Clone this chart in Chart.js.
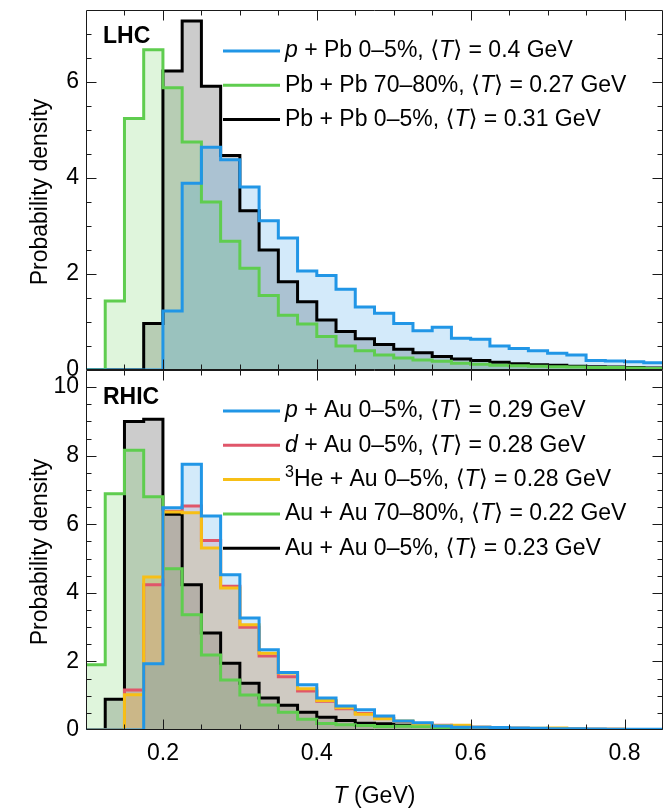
<!DOCTYPE html>
<html>
<head>
<meta charset="utf-8">
<script src="https://cdn.jsdelivr.net/npm/chart.js@4.4.1/dist/chart.umd.min.js"></script>
<style>
  html, body { margin: 0; padding: 0; background: #fff; }
  #wrap { position: relative; width: 672px; height: 810px; overflow: hidden; }
  canvas { position: absolute; left: 0; }
  #lhc { top: 0; }
  #rhic { top: 360px; }
</style>
</head>
<body>
<div id="wrap">
  <canvas id="lhc" width="672" height="390"></canvas>
  <canvas id="rhic" width="672" height="450"></canvas>
</div>
<script>
// ---- binning (GeV): left edge of every 0.025 GeV bin; the last bin closes at T_MAX
const T_MIN = 0.1;
const T_MAX = 0.85;
const binLeftEdges = [
  0.100, 0.125, 0.150, 0.175, 0.200, 0.225, 0.250, 0.275, 0.300, 0.325,
  0.350, 0.375, 0.400, 0.425, 0.450, 0.475, 0.500, 0.525, 0.550, 0.575,
  0.600, 0.625, 0.650, 0.675, 0.700, 0.725, 0.750, 0.775, 0.800, 0.825
];

// ---- axis ticks
const xTickValues = [0.2, 0.4, 0.6, 0.8];
const xTickLabels = ['0.2', '0.4', '0.6', '0.8'];
const lhcYTicks = [0, 2, 4, 6];
const rhicYTicks = [0, 2, 4, 6, 8, 10];
const lhcYMax = 7.5;
const rhicYMax = 10.5;

// ---- LHC probability densities per bin
const lhcPPb = [
  0, 0, 0, 0, 1.23, 3.89, 4.64, 4.38, 3.81, 3.11,
  2.75, 2.06, 1.97, 1.68, 1.31, 1.18, 0.97, 0.82, 0.89, 0.66,
  0.64, 0.50, 0.45, 0.40, 0.35, 0.31, 0.20, 0.19, 0.17, 0.15
];
const lhcPbPbPeripheral = [
  0, 1.44, 5.24, 6.67, 5.88, 4.75, 3.50, 2.68, 2.12, 1.55,
  1.14, 0.96, 0.70, 0.50, 0.40, 0.31, 0.25, 0.21, 0.18, 0.14,
  0.12, 0.10, 0.09, 0.08, 0.07, 0.06, 0.05, 0.05, 0.04, 0.03
];
const lhcPbPbCentral = [
  0, 0, 0, 0.97, 6.23, 7.27, 5.91, 4.47, 3.32, 2.50,
  1.84, 1.42, 1.04, 0.80, 0.65, 0.53, 0.43, 0.36, 0.28, 0.23,
  0.20, 0.16, 0.13, 0.11, 0.10, 0.08, 0.07, 0.06, 0.05, 0.04
];

// ---- RHIC probability densities per bin
const rhicPAu = [
  0, 0, 0, 1.93, 6.48, 7.75, 6.24, 4.53, 3.27, 2.34,
  1.68, 1.32, 0.93, 0.70, 0.59, 0.41, 0.26, 0.21, 0.12, 0.08,
  0.08, 0.07, 0.06, 0.05, 0.04, 0.04, 0.03, 0.02, 0.02, 0.02
];
const rhicDAu = [
  0, 0, 1.17, 4.24, 6.38, 6.53, 5.53, 4.19, 3.00, 2.16,
  1.55, 1.14, 0.84, 0.62, 0.48, 0.34, 0.25, 0.19, 0.14, 0.10,
  0.08, 0.06, 0.05, 0.04, 0.03, 0.03, 0.02, 0.02, 0.01, 0.01
];
const rhicHeAu = [
  0, 0, 1.03, 4.46, 6.36, 6.34, 5.31, 4.14, 3.07, 2.24,
  1.66, 1.20, 0.86, 0.65, 0.46, 0.33, 0.26, 0.18, 0.13, 0.14,
  0.08, 0.06, 0.05, 0.05, 0.06, 0.03, 0.02, 0.02, 0.01, 0.01
];
const rhicAuAuPeripheral = [
  1.90, 6.89, 8.16, 6.80, 4.70, 3.36, 2.19, 1.46, 1.02, 0.73,
  0.52, 0.31, 0.19, 0.15, 0.13, 0.10, 0.11, 0.10, 0.07, 0.05,
  0.04, 0.03, 0.03, 0.02, 0.02, 0.01, 0.01, 0.01, 0.01, 0
];
const rhicAuAuCentral = [
  0, 0.90, 9.00, 9.06, 6.29, 4.24, 2.83, 1.95, 1.36, 0.93,
  0.72, 0.52, 0.37, 0.28, 0.20, 0.18, 0.14, 0.10, 0.08, 0.06,
  0.05, 0.04, 0.03, 0.02, 0.02, 0.01, 0.01, 0.01, 0, 0
];

// ---- legend texts (*...* italic, ^...^ superscript)
const lhcNames = [
  '*p* + Pb 0–5%, ⟨*T*⟩ = 0.4 GeV',
  'Pb + Pb 70–80%, ⟨*T*⟩ = 0.27 GeV',
  'Pb + Pb 0–5%, ⟨*T*⟩ = 0.31 GeV'
];
const rhicNames = [
  '*p* + Au 0–5%, ⟨*T*⟩ = 0.29 GeV',
  '*d* + Au 0–5%, ⟨*T*⟩ = 0.28 GeV',
  '^3^He + Au 0–5%, ⟨*T*⟩ = 0.28 GeV',
  'Au + Au 70–80%, ⟨*T*⟩ = 0.22 GeV',
  'Au + Au 0–5%, ⟨*T*⟩ = 0.23 GeV'
];

const BLUE = '#2196e6', GREEN = '#5fcd4f', BLACK = '#000000', RED = '#e0566a', YELLOW = '#f7bf16';
const FONT = "'Liberation Sans', 'DejaVu Sans', Arial, sans-serif";
const FS = 23;

function rgba(hex, a) {
  const n = parseInt(hex.slice(1), 16);
  return `rgba(${(n >> 16) & 255},${(n >> 8) & 255},${n & 255},${a})`;
}

function histPoints(values) {
  const pts = binLeftEdges.map((e, i) => ({ x: e, y: values[i] }));
  pts.push({ x: T_MAX, y: values[values.length - 1] });
  return pts;
}

// lower `layer` is painted later, i.e. on top
function histDataset(values, color, fillAlpha, layer) {
  return {
    data: histPoints(values),
    stepped: 'before',
    borderColor: color,
    backgroundColor: rgba(color, fillAlpha),
    borderWidth: 3,
    pointRadius: 0,
    fill: 'origin',
    order: layer,
    clip: { left: 2, right: 2, top: 2, bottom: 0 }
  };
}

function parseRich(s) {
  const out = [];
  let it = false, sup = false, buf = '';
  for (const ch of s) {
    if (ch === '*' || ch === '^') {
      if (buf) out.push({ t: buf, it, sup });
      buf = '';
      if (ch === '*') it = !it; else sup = !sup;
    } else buf += ch;
  }
  if (buf) out.push({ t: buf, it, sup });
  return out;
}

function richWidth(ctx, parts, size) {
  let w = 0;
  for (const p of parts) {
    const sz = p.sup ? Math.round(size * 0.68) : size;
    ctx.font = `${p.it ? 'italic ' : ''}${sz}px ${FONT}`;
    w += ctx.measureText(p.t).width;
  }
  return w;
}

function drawRich(ctx, str, x, y, size, align) {
  const parts = parseRich(str);
  let cx = align === 'center' ? x - richWidth(ctx, parts, size) / 2 : x;
  ctx.textBaseline = 'middle';
  ctx.textAlign = 'left';
  for (const p of parts) {
    const sz = p.sup ? Math.round(size * 0.68) : size;
    ctx.font = `${p.it ? 'italic ' : ''}${sz}px ${FONT}`;
    ctx.fillText(p.t, cx, p.sup ? y - size * 0.32 : y);
    cx += ctx.measureText(p.t).width;
  }
}

// frame, inward ticks, panel tag, legend and axis titles
const panelDecor = {
  id: 'panelDecor',
  afterDatasetsDraw(chart, _args, o) {
    const { ctx, chartArea: a } = chart;
    const xs = chart.scales.x, ys = chart.scales.y;
    const L = Math.round(a.left) + 0.5, R = Math.round(a.right) - 0.5;
    const T = Math.round(a.top) + 0.5, B = Math.round(a.bottom) - 0.5;
    ctx.save();
    ctx.strokeStyle = '#1a1a1a';
    ctx.lineWidth = 1;
    ctx.beginPath();
    ctx.rect(L, T, R - L, B - T);
    const MAJ = 10, MIN = 5;
    for (let k = 3; k <= 16; k++) {
      const v = k * 0.05;
      const len = xTickValues.some(m => Math.abs(m - v) < 1e-6) ? MAJ : MIN;
      const px = Math.round(xs.getPixelForValue(v)) + 0.5;
      ctx.moveTo(px, B); ctx.lineTo(px, B - len);
      ctx.moveTo(px, T); ctx.lineTo(px, T + len);
    }
    for (let k = 1; k * 0.5 < o.yMax - 1e-6; k++) {
      const v = k * 0.5;
      const len = o.yMajor.includes(v) ? MAJ : MIN;
      const py = Math.round(ys.getPixelForValue(v)) + 0.5;
      ctx.moveTo(L, py); ctx.lineTo(L + len, py);
      ctx.moveTo(R, py); ctx.lineTo(R - len, py);
    }
    ctx.stroke();
    ctx.restore();
  },
  afterDraw(chart, _args, o) {
    const { ctx, chartArea: a } = chart;
    ctx.save();
    ctx.fillStyle = '#000';
    ctx.textBaseline = 'middle';
    ctx.textAlign = 'left';
    ctx.font = `bold ${FS}px ${FONT}`;
    ctx.fillText(o.tag, a.left + o.tagDx, a.top + o.tagDy);
    o.entries.forEach((e, i) => {
      const y = a.top + o.legendTop + i * o.legendStep;
      ctx.strokeStyle = e.color;
      ctx.lineWidth = 3;
      ctx.beginPath();
      ctx.moveTo(223, y); ctx.lineTo(280, y);
      ctx.stroke();
      ctx.fillStyle = '#000';
      drawRich(ctx, e.label, 285, y, FS, 'left');
    });
    // y-axis title
    ctx.save();
    ctx.translate(41, (a.top + a.bottom) / 2 + 2);
    ctx.rotate(-Math.PI / 2);
    ctx.font = `${FS}px ${FONT}`;
    ctx.textAlign = 'center';
    ctx.textBaseline = 'middle';
    ctx.fillText('Probability density', 0, 0);
    ctx.restore();
    if (o.xTitle) {
      drawRich(ctx, '*T* (GeV)', (a.left + a.right) / 2, a.bottom + 67, FS, 'center');
    }
    ctx.restore();
  }
};

function makeOptions(yMax, yTicks, showX, decor, padTop) {
  return {
    responsive: false,
    animation: false,
    devicePixelRatio: 1,
    events: [],
    layout: { padding: { left: 0, right: 9, top: padTop, bottom: 0 } },
    plugins: {
      legend: { display: false },
      tooltip: { enabled: false },
      // all shaded areas first, outlines afterwards
      filler: { drawTime: 'beforeDatasetsDraw' },
      panelDecor: decor
    },
    scales: {
      x: {
        type: 'linear', min: T_MIN, max: T_MAX,
        afterBuildTicks: s => { s.ticks = xTickValues.map(v => ({ value: v })); },
        afterFit: s => { s.height = showX ? 80 : 20; s.paddingLeft = 0; s.paddingRight = 0; },
        grid: { display: false, drawTicks: false },
        border: { display: false },
        ticks: {
          display: showX, padding: 10, maxRotation: 0, autoSkip: false,
          color: '#000', font: { family: FONT, size: FS },
          callback: (v, i) => xTickLabels[i]
        }
      },
      y: {
        type: 'linear', min: 0, max: yMax,
        afterBuildTicks: s => { s.ticks = yTicks.map(v => ({ value: v })); },
        afterFit: s => { s.width = 86; s.paddingTop = 0; s.paddingBottom = 0; },
        grid: { display: false, drawTicks: false },
        border: { display: false },
        ticks: {
          padding: 7, color: '#000', font: { family: FONT, size: FS },
          callback: v => String(v)
        }
      }
    }
  };
}

const decorBase = { tagDx: 17, legendTop: 41, legendStep: 34.3 };

new Chart(document.getElementById('lhc'), {
  type: 'line',
  data: {
    datasets: [
      histDataset(lhcPPb, BLUE, 0.2, 0),
      histDataset(lhcPbPbPeripheral, GREEN, 0.2, 1),
      histDataset(lhcPbPbCentral, BLACK, 0.2, 2)
    ]
  },
  options: makeOptions(lhcYMax, lhcYTicks, false, Object.assign({}, decorBase, {
    tag: 'LHC', tagDy: 27, yMax: lhcYMax, yMajor: lhcYTicks, xTitle: false,
    entries: [
      { color: BLUE, label: lhcNames[0] },
      { color: GREEN, label: lhcNames[1] },
      { color: BLACK, label: lhcNames[2] }
    ]
  }), 10),
  plugins: [panelDecor]
});

new Chart(document.getElementById('rhic'), {
  type: 'line',
  data: {
    datasets: [
      histDataset(rhicPAu, BLUE, 0.2, 0),
      histDataset(rhicDAu, RED, 0.2, 2),
      histDataset(rhicHeAu, YELLOW, 0.2, 1),
      histDataset(rhicAuAuPeripheral, GREEN, 0.2, 3),
      histDataset(rhicAuAuCentral, BLACK, 0.2, 4)
    ]
  },
  options: makeOptions(rhicYMax, rhicYTicks, true, Object.assign({}, decorBase, {
    tag: 'RHIC', tagDy: 28, yMax: rhicYMax, yMajor: rhicYTicks, xTitle: true,
    entries: [
      { color: BLUE, label: rhicNames[0] },
      { color: RED, label: rhicNames[1] },
      { color: YELLOW, label: rhicNames[2] },
      { color: GREEN, label: rhicNames[3] },
      { color: BLACK, label: rhicNames[4] }
    ]
  }), 10),
  plugins: [panelDecor]
});
</script>
</body>
</html>
